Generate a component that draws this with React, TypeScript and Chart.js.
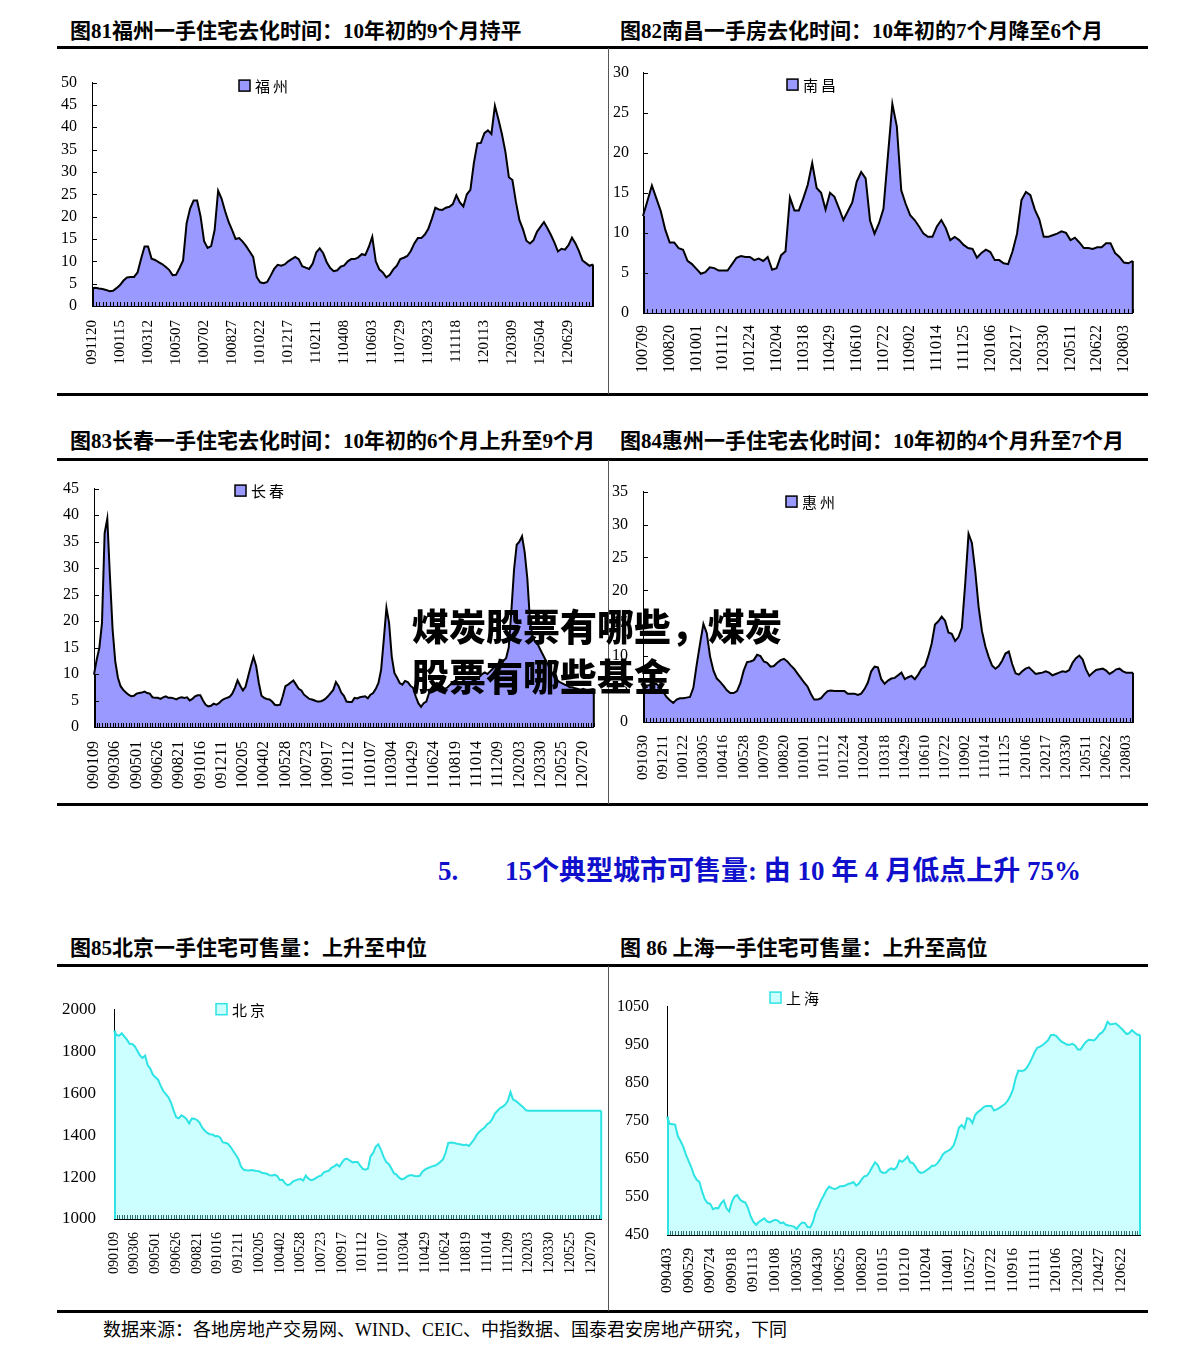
import React, { useEffect, useRef } from 'react';
import { Chart, registerables } from 'chart.js';

Chart.register(...registerables);

// ---------- categories: weekly dates (yymmdd) ----------
function weeklyDates(start: string, count: number): string[] {
  const y = 2000 + parseInt(start.slice(0, 2), 10);
  const m = parseInt(start.slice(2, 4), 10) - 1;
  const d = parseInt(start.slice(4, 6), 10);
  const out: string[] = [];
  for (let i = 0; i < count; i++) {
    const dt = new Date(Date.UTC(y, m, d + 7 * i));
    out.push(
      String(dt.getUTCFullYear() % 100).padStart(2, '0') +
        String(dt.getUTCMonth() + 1).padStart(2, '0') +
        String(dt.getUTCDate()).padStart(2, '0')
    );
  }
  return out;
}

// ---------- tick labels ----------
const fuzhouTicks = ['091120','100115','100312','100507','100702','100827','101022','101217','110211','110408','110603','110729','110923','111118','120113','120309','120504','120629'];
const nanchangTicks = ['100709','100820','101001','101112','101224','110204','110318','110429','110610','110722','110902','111014','111125','120106','120217','120330','120511','120622','120803'];
const changchunTicks = ['090109','090306','090501','090626','090821','091016','091211','100205','100402','100528','100723','100917','101112','110107','110304','110429','110624','110819','111014','111209','120203','120330','120525','120720'];
const huizhouTicks = ['091030','091211','100122','100305','100416','100528','100709','100820','101001','101112','101224','110204','110318','110429','110610','110722','110902','111014','111125','120106','120217','120330','120511','120622','120803'];
const beijingTicks = ['090109','090306','090501','090626','090821','091016','091211','100205','100402','100528','100723','100917','101112','110107','110304','110429','110624','110819','111014','111209','120203','120330','120525','120720'];
const shanghaiTicks = ['090403','090529','090724','090918','091113','100108','100305','100430','100625','100820','101015','101210','110204','110401','110527','110722','110916','111111','120106','120302','120427','120622'];

// ---------- series values ----------
const fuzhouValues = [
  4.0,4.1,3.9,3.8,3.6,3.3,3.4,4.0,4.7,5.7,
  6.4,6.5,6.5,7.5,10.5,13.3,13.3,10.6,10.3,9.8,
  9.4,8.8,8.1,6.9,7.0,8.5,10.2,18.5,21.8,23.6,
  23.6,20.0,14.5,13.0,13.4,17.0,25.8,24.0,21.2,18.8,
  17.0,15.0,15.2,14.4,13.4,12.2,11.0,6.5,5.3,5.1,
  5.4,6.8,8.3,9.2,9.0,9.3,10.0,10.5,11.0,10.5,
  8.9,8.6,8.3,9.5,12.0,12.9,11.8,9.8,8.5,7.8,
  8.0,8.8,9.1,10.0,10.5,10.5,10.9,11.6,11.4,13.2,
  15.5,10.0,8.2,7.5,6.4,7.0,8.2,9.0,10.5,10.8,
  11.2,12.3,14.0,15.2,15.2,16.0,17.3,19.5,22.0,21.6,
  21.5,22.0,22.2,22.8,24.8,23.2,22.3,25.0,26.0,32.0,
  36.4,36.5,38.7,39.3,38.5,44.8,41.8,38.5,34.5,28.8,
  28.2,23.3,19.2,17.2,14.6,14.0,14.7,16.6,17.7,18.8,
  17.4,15.9,14.2,12.2,12.8,12.6,13.6,15.3,14.0,12.3,
  10.2,9.6,9.0,9.3
];
const nanchangValues = [
  12.1,14.0,15.9,14.3,12.7,10.4,8.8,8.8,8.1,7.9,
  6.5,6.1,5.5,4.9,5.1,5.7,5.6,5.3,5.3,5.3,
  6.1,6.9,7.1,7.0,7.0,6.6,6.8,6.5,7.0,5.4,
  5.6,7.2,7.7,14.4,12.8,12.8,14.3,16.0,18.7,15.6,
  15.0,12.9,15.0,14.5,13.1,11.6,12.7,13.8,16.4,17.6,
  16.8,11.5,9.9,11.2,13.0,19.6,26.1,23.3,15.3,13.6,
  12.2,11.6,10.8,9.9,9.5,9.5,10.8,11.6,10.6,9.1,
  9.5,9.1,8.5,8.1,8.0,6.9,7.5,7.9,7.6,6.6,
  6.6,6.2,6.1,7.7,9.9,14.1,15.1,14.7,12.9,11.7,
  9.5,9.5,9.7,9.9,10.2,10.0,9.1,9.4,8.8,8.1,
  8.1,8.0,8.2,8.2,8.7,8.7,7.5,7.0,6.3,6.2,6.5
];
const changchunValues = [
  9.9,12.7,14.9,19.6,36.6,39.3,28.4,18.4,12.4,9.3,
  7.7,7.0,6.5,6.1,5.8,5.9,6.3,6.4,6.5,6.7,
  6.4,6.3,5.6,5.5,5.5,5.3,5.6,5.8,5.5,5.5,
  5.4,5.2,5.5,5.6,5.5,5.6,5.0,5.3,5.8,6.0,
  6.0,5.0,4.2,3.9,4.0,4.4,4.2,4.5,5.0,5.3,
  5.5,5.7,6.3,7.4,8.8,7.8,6.9,7.6,9.6,11.5,
  13.2,11.5,8.3,5.9,5.5,5.3,5.2,4.8,4.2,4.1,
  4.2,5.8,7.7,8.0,8.4,8.8,8.0,7.2,6.9,6.1,
  5.7,5.3,5.2,5.0,4.8,4.8,5.0,5.3,5.8,6.4,
  7.0,8.5,7.7,6.5,5.9,4.8,4.7,4.7,5.5,5.4,
  5.6,5.7,5.8,5.4,6.1,6.4,7.2,8.3,10.8,16.5,
  22.5,19.6,13.3,10.2,9.3,8.3,8.0,8.7,8.5,7.8,
  7.4,5.8,4.5,3.8,4.5,4.8,6.4,7.4,8.0,8.3,
  8.0,7.6,7.2,7.5,8.0,8.5,8.8,8.5,8.3,8.8,
  9.2,9.5,9.0,8.7,9.0,9.5,10.0,10.3,10.0,10.5,
  11.0,11.5,11.8,12.0,12.5,13.0,15.0,22.0,29.7,34.4,
  35.0,36.0,33.0,28.0,20.0,17.0,16.0,15.5,14.5,13.5,
  12.5,11.5,10.5,9.5,9.0,8.5,8.3,8.0,7.8,7.5,
  7.5,7.3,7.2,7.0,7.2,7.0,7.0,7.1,7.2
];
const huizhouValues = [
  5.0,5.5,5.6,5.7,5.8,5.3,4.6,3.8,3.3,2.9,
  3.4,3.6,3.6,3.7,3.8,5.2,8.7,11.9,14.9,13.5,
  9.9,7.8,6.6,6.1,5.5,4.8,4.4,4.4,4.7,5.9,
  7.8,9.1,9.2,9.4,10.2,10.0,9.2,9.0,8.4,8.5,
  9.0,9.4,9.6,9.2,8.6,8.1,7.4,6.7,6.0,5.4,
  4.3,3.4,3.4,3.6,4.2,4.7,4.8,4.7,4.7,4.7,
  4.7,4.3,4.3,4.3,4.1,4.3,5.0,6.0,7.7,8.4,
  8.3,6.5,5.8,6.3,6.6,6.7,7.1,7.5,6.5,6.8,
  7.0,6.5,7.2,8.1,8.5,10.0,11.9,14.8,15.3,16.0,
  15.4,13.6,13.4,12.3,12.9,14.3,21.0,28.6,27.2,22.9,
  17.5,13.8,11.5,9.9,8.6,8.1,8.5,9.3,10.4,10.7,
  8.8,7.4,7.2,7.7,8.1,8.3,7.8,7.3,7.4,7.5,
  7.7,7.5,7.1,7.3,7.5,7.7,7.6,7.9,9.0,9.7,
  10.1,9.5,8.0,7.0,7.5,7.9,8.0,8.1,7.8,7.3,
  7.6,8.0,8.1,7.7,7.5,7.5,7.5
];
const beijingValues = [
  1898,1877,1874,1885,1869,1855,1835,1834,1824,1802,
  1780,1768,1779,1734,1717,1688,1676,1664,1636,1610,
  1595,1580,1555,1518,1485,1480,1494,1487,1476,1455,
  1479,1478,1472,1460,1436,1422,1410,1404,1403,1395,
  1396,1388,1365,1363,1358,1343,1324,1306,1286,1250,
  1235,1232,1231,1233,1231,1229,1228,1220,1218,1216,
  1208,1207,1211,1205,1186,1187,1170,1161,1166,1178,
  1184,1189,1191,1183,1207,1193,1185,1188,1196,1203,
  1208,1222,1227,1231,1245,1251,1261,1250,1270,1285,
  1287,1279,1270,1272,1272,1254,1239,1235,1240,1299,
  1315,1345,1356,1330,1297,1272,1262,1242,1218,1212,
  1197,1189,1193,1202,1208,1208,1205,1204,1206,1225,
  1235,1242,1247,1252,1255,1263,1273,1285,1318,1363,
  1365,1363,1360,1357,1355,1352,1355,1348,1364,1380,
  1402,1416,1427,1436,1452,1460,1477,1502,1516,1529,
  1536,1545,1565,1605,1569,1563,1553,1542,1532,1518,
  1516,1516,1516,1516,1516,1516,1516,1516,1516,1516,
  1516,1516,1516,1516,1516,1516,1516,1516,1516,1516,
  1516,1516,1516,1516,1516,1516,1516,1516,1516
];
const shanghaiValues = [
  761,742,741,740,710,697,682,661,644,628,
  607,595,589,564,544,534,532,518,521,520,
  533,541,520,512,537,551,555,543,538,535,
  520,498,484,477,484,489,494,486,483,487,
  490,488,481,483,477,475,474,472,466,476,
  483,482,471,470,484,510,524,541,554,568,
  577,573,571,573,578,578,580,584,586,589,
  580,585,596,604,606,616,629,641,634,617,
  613,614,621,625,622,628,646,642,648,656,
  641,639,629,617,613,615,620,625,632,632,
  638,648,661,668,671,676,685,705,732,739,
  730,757,755,744,765,773,778,785,789,789,
  789,777,780,784,789,794,802,815,832,862,
  882,881,882,888,900,914,930,942,945,949,
  955,962,975,976,973,965,958,954,950,950,
  952,948,937,937,948,957,963,962,961,968,
  978,982,992,1010,1003,1004,1006,1000,993,986,
  978,980,988,982,976,976
];

// ---------- layout constants ----------
const AX_W = 60;
const AX_H = 80;
const PAD_T = 15;
const PAD_R = 15;

type Spec = {
  name: string;
  values: number[];
  categories: string[];
  ticks: string[];
  step: number;
  yMin: number;
  yMax: number;
  yStep: number;
  fill: string;
  border: string;
  tickColor: string;
  rect: [number, number, number, number];
  legend: [number, number];
  yFont: number;
  xFont: number;
  yPad: number;
  xPad: number;
  yInnerTicks: boolean;
};

const PURPLE = '#9999FF';
const CYAN_FILL = '#CCFFFF';
const CYAN_LINE = '#2EE3E3';

const specs: Spec[] = [
  { name: '福州', values: fuzhouValues, categories: weeklyDates('091120', fuzhouValues.length), ticks: fuzhouTicks, step: 8,
    yMin: 0, yMax: 50, yStep: 5, fill: PURPLE, border: '#000', tickColor: '#000',
    rect: [92, 83, 593, 306], legend: [239, 86], yFont: 16, xFont: 15, yPad: 15, xPad: 14, yInnerTicks: true },
  { name: '南昌', values: nanchangValues, categories: weeklyDates('100709', nanchangValues.length), ticks: nanchangTicks, step: 6,
    yMin: 0, yMax: 30, yStep: 5, fill: PURPLE, border: '#000', tickColor: '#000',
    rect: [643, 73, 1133, 313], legend: [787, 85], yFont: 16, xFont: 16, yPad: 14, xPad: 12, yInnerTicks: true },
  { name: '长春', values: changchunValues, categories: weeklyDates('090109', changchunValues.length), ticks: changchunTicks, step: 8,
    yMin: 0, yMax: 45, yStep: 5, fill: PURPLE, border: '#000', tickColor: '#000',
    rect: [94, 489, 594, 727], legend: [235, 491], yFont: 16, xFont: 16, yPad: 15, xPad: 14, yInnerTicks: true },
  { name: '惠州', values: huizhouValues, categories: weeklyDates('091030', huizhouValues.length), ticks: huizhouTicks, step: 6,
    yMin: 0, yMax: 35, yStep: 5, fill: PURPLE, border: '#000', tickColor: '#000',
    rect: [643, 492, 1133, 722], legend: [786, 502], yFont: 16, xFont: 15, yPad: 15, xPad: 13, yInnerTicks: true },
  { name: '北京', values: beijingValues, categories: weeklyDates('090109', beijingValues.length), ticks: beijingTicks, step: 8,
    yMin: 1000, yMax: 2000, yStep: 200, fill: CYAN_FILL, border: CYAN_LINE, tickColor: '#2a6f6f',
    rect: [114, 1009, 601, 1219], legend: [216, 1009], yFont: 17, xFont: 14, yPad: 18, xPad: 13, yInnerTicks: false },
  { name: '上海', values: shanghaiValues, categories: weeklyDates('090403', shanghaiValues.length), ticks: shanghaiTicks, step: 8,
    yMin: 450, yMax: 1050, yStep: 100, fill: CYAN_FILL, border: CYAN_LINE, tickColor: '#2a6f6f',
    rect: [667, 1007, 1140, 1235], legend: [770, 998], yFont: 16, xFont: 15, yPad: 18, xPad: 13, yInnerTicks: false },
];

const decorPlugin = {
  id: 'decor',
  afterDatasetsDraw(chart: any, _args: any, opts: any) {
    const { ctx, chartArea: a, scales } = chart;
    const x = scales.x;
    const y = scales.y;
    const ds = chart.data.datasets[0];
    const data = ds.data as number[];
    const n = data.length;
    ctx.save();
    // axis lines
    ctx.strokeStyle = '#000';
    ctx.lineWidth = 1;
    ctx.beginPath();
    ctx.moveTo(a.left + 0.5, a.top);
    ctx.lineTo(a.left + 0.5, a.bottom + 0.5);
    ctx.lineTo(a.right, a.bottom + 0.5);
    ctx.stroke();
    // inner tick marks
    ctx.strokeStyle = opts.tickColor;
    ctx.beginPath();
    for (let i = 0; i < n; i++) {
      const px = Math.round(x.getPixelForValue(i)) + 0.5;
      ctx.moveTo(px, a.bottom);
      ctx.lineTo(px, a.bottom - 4);
    }
    if (opts.yInnerTicks) {
      y.ticks.forEach((t: any) => {
        const py = Math.round(y.getPixelForValue(t.value)) + 0.5;
        ctx.moveTo(a.left, py);
        ctx.lineTo(a.left + 5, py);
      });
    }
    ctx.stroke();
    // area side edges
    ctx.strokeStyle = ds.borderColor;
    ctx.lineWidth = ds.borderWidth;
    ctx.beginPath();
    const x0 = x.getPixelForValue(0);
    const xn = x.getPixelForValue(n - 1);
    ctx.moveTo(x0 + 1, y.getPixelForValue(data[0]));
    ctx.lineTo(x0 + 1, a.bottom);
    ctx.moveTo(xn, y.getPixelForValue(data[n - 1]));
    ctx.lineTo(xn, a.bottom);
    ctx.stroke();
    // legend
    const lx = opts.legendX;
    const ly = opts.legendY;
    ctx.fillStyle = ds.backgroundColor;
    ctx.fillRect(lx, ly - 5.5, 11, 11);
    ctx.strokeStyle = ds.borderColor;
    ctx.lineWidth = 1.5;
    ctx.strokeRect(lx, ly - 5.5, 11, 11);
    ctx.fillStyle = '#000';
    ctx.font = '15px "Noto Sans CJK SC"';
    ctx.textBaseline = 'middle';
    ctx.textAlign = 'left';
    try { (ctx as any).letterSpacing = '3px'; } catch (e) { /* ignore */ }
    ctx.fillText(ds.label, lx + 16, ly + 1);
    ctx.restore();
  },
};

function buildConfig(spec: Spec, left: number, top: number): any {
  return {
    type: 'line',
    data: {
      labels: spec.categories,
      datasets: [
        {
          label: spec.name,
          data: spec.values,
          fill: 'start',
          backgroundColor: spec.fill,
          borderColor: spec.border,
          borderWidth: 2,
          pointRadius: 0,
          tension: 0,
        },
      ],
    },
    options: {
      responsive: false,
      maintainAspectRatio: false,
      animation: false,
      devicePixelRatio: 1,
      layout: { padding: { left: 0, top: PAD_T, right: PAD_R, bottom: 0 } },
      plugins: {
        legend: { display: false },
        tooltip: { enabled: false },
        decor: {
          legendX: spec.legend[0] - left,
          legendY: spec.legend[1] - top,
          tickColor: spec.tickColor,
          yInnerTicks: spec.yInnerTicks,
        },
      },
      scales: {
        x: {
          type: 'category',
          offset: false,
          grid: { display: false, drawTicks: false },
          border: { display: true, color: '#000', width: 1 },
          ticks: {
            autoSkip: false,
            maxRotation: 90,
            minRotation: 90,
            padding: spec.xPad,
            color: '#000',
            font: { family: '"Liberation Serif", serif', size: spec.xFont },
            callback: (_v: any, i: number) => {
              if (i % spec.step !== 0) return '';
              const lab = spec.ticks[i / spec.step];
              return lab === undefined ? '' : lab;
            },
          },
          afterFit: (s: any) => {
            s.height = AX_H;
          },
        },
        y: {
          min: spec.yMin,
          max: spec.yMax,
          grid: { display: false, drawTicks: false },
          border: { display: true, color: '#000', width: 1 },
          ticks: {
            stepSize: spec.yStep,
            autoSkip: false,
            maxTicksLimit: 100,
            padding: spec.yPad,
            color: '#000',
            font: { family: '"Liberation Serif", serif', size: spec.yFont },
            callback: (v: any) => String(v),
          },
          afterFit: (s: any) => {
            s.width = AX_W;
          },
        },
      },
    },
    plugins: [decorPlugin],
  };
}

function AreaChart({ spec }: { spec: Spec }) {
  const ref = useRef<HTMLCanvasElement | null>(null);
  const [L, T, R, B] = spec.rect;
  const initW = R - L + AX_W + PAD_R;
  const initH = B - T + PAD_T + AX_H;

  useEffect(() => {
    const canvas = ref.current;
    if (!canvas) return;
    // first pass: measure where Chart.js puts the plot area
    canvas.width = initW;
    canvas.height = initH;
    const probe = new Chart(canvas, buildConfig(spec, L - AX_W, T - PAD_T));
    const ca = probe.chartArea;
    const offL = ca.left;
    const offT = ca.top;
    const offR = initW - ca.right;
    const offB = initH - ca.bottom;
    probe.destroy();
    // second pass: size the canvas so the plot area lands on the target rectangle
    const W = Math.round(R - L + offL + offR);
    const H = Math.round(B - T + offT + offB);
    const left = L - offL;
    const top = T - offT;
    canvas.width = W;
    canvas.height = H;
    canvas.style.width = W + 'px';
    canvas.style.height = H + 'px';
    canvas.style.left = left + 'px';
    canvas.style.top = top + 'px';
    const chart = new Chart(canvas, buildConfig(spec, left, top));
    return () => chart.destroy();
  }, [spec]);

  return (
    <canvas
      ref={ref}
      width={initW}
      height={initH}
      style={{ position: 'absolute', left: L - AX_W, top: T - PAD_T, width: initW, height: initH }}
    />
  );
}

const FONT = '"Liberation Serif", "Noto Sans CJK SC", serif';

function Text({ x, cy, size, children, bold = true, color = '#000', family = FONT, weight }: any) {
  const h = Math.round(size * 1.5);
  return (
    <div
      style={{
        position: 'absolute',
        left: x,
        top: cy - h / 2,
        height: h,
        lineHeight: h + 'px',
        fontSize: size,
        fontFamily: family,
        fontWeight: weight !== undefined ? weight : bold ? 'bold' : 'normal',
        color,
        whiteSpace: 'nowrap',
      }}
    >
      {children}
    </div>
  );
}

const HLINES = [47, 394, 459, 804, 965, 1311];
const VLINES: [number, number][] = [
  [48, 394],
  [460, 804],
  [966, 1311],
];

export default function App() {
  return (
    <div
      style={{
        position: 'absolute',
        left: 0,
        top: 0,
        width: 1191,
        height: 1360,
        background: '#fff',
        overflow: 'hidden',
      }}
    >
      {HLINES.map((y) => (
        <div key={'h' + y} style={{ position: 'absolute', left: 57, top: y - 1.5, width: 1091, height: 3, background: '#000' }} />
      ))}
      {VLINES.map(([a, b]) => (
        <div key={'v' + a} style={{ position: 'absolute', left: 608, top: a, width: 1, height: b - a, background: '#555' }} />
      ))}

      <Text x={70} cy={31} size={21}>图81福州一手住宅去化时间：10年初的9个月持平</Text>
      <Text x={620} cy={31} size={21}>图82南昌一手房去化时间：10年初的7个月降至6个月</Text>
      <Text x={70} cy={441} size={21}>图83长春一手住宅去化时间：10年初的6个月上升至9个月</Text>
      <Text x={620} cy={441} size={21}>图84惠州一手住宅去化时间：10年初的4个月升至7个月</Text>
      <Text x={70} cy={948} size={21}>图85北京一手住宅可售量：上升至中位</Text>
      <Text x={620} cy={948} size={21}>图 86 上海一手住宅可售量：上升至高位</Text>

      <Text x={438} cy={871} size={27} color="#1010CC">5.</Text>
      <Text x={505} cy={871} size={27} color="#1010CC">15个典型城市可售量: 由 10 年 4 月低点上升 75%</Text>

      <Text x={103} cy={1330} size={18} bold={false}>数据来源：各地房地产交易网、WIND、CEIC、中指数据、国泰君安房地产研究，下同</Text>

      {specs.map((s) => (
        <AreaChart key={s.name} spec={s} />
      ))}

      <div style={{ position: 'absolute', left: 0, top: 0, width: 1191, height: 1360, pointerEvents: 'none' }}>
        <Text x={412} cy={625} size={37} weight={900} family='"Noto Sans CJK SC", sans-serif'>煤炭股票有哪些，煤炭</Text>
        <Text x={412} cy={675} size={37} weight={900} family='"Noto Sans CJK SC", sans-serif'>股票有哪些基金</Text>
      </div>
    </div>
  );
}
